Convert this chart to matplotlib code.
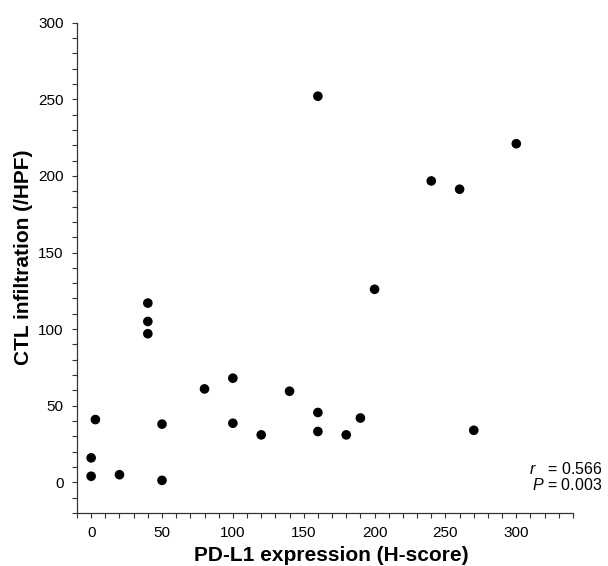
import matplotlib
matplotlib.use('Agg')
import matplotlib.pyplot as plt
from matplotlib.ticker import MultipleLocator

plt.rcParams['font.family'] = ['Liberation Sans', 'DejaVu Sans']
plt.rcParams['mathtext.fontset'] = 'custom'
plt.rcParams['mathtext.rm'] = 'Liberation Sans'
plt.rcParams['mathtext.it'] = 'Liberation Sans:italic'

# PD-L1 H-score vs CTL count per HPF
pdl1 = [0, 0, 3, 20, 40, 40, 40, 50, 50, 80, 100, 100, 120, 140,
        160, 160, 160, 180, 190, 200, 240, 260, 270, 300]
ctl = [4, 16, 41, 5, 117, 105, 97, 38, 1.3, 61, 68, 38.6, 31, 59.5,
       252, 45.6, 33.2, 31, 42, 126, 196.7, 191.3, 34, 221]
stats_text = ["$r$   = 0.566", "$P$ = 0.003"]

fig = plt.figure(figsize=(6.08, 5.66), dpi=100)
ax = fig.add_axes([0.1266, 0.0936, 0.8158, 0.8664])
ax.scatter(pdl1, ctl, s=48, color='black', edgecolors='none', zorder=3)

ax.set_xlim(-10, 340)
ax.set_ylim(-20, 300)
ax.set_xticks([0, 50, 100, 150, 200, 250, 300])
ax.set_yticks([0, 50, 100, 150, 200, 250, 300])
ax.xaxis.set_minor_locator(MultipleLocator(10))
ax.yaxis.set_minor_locator(MultipleLocator(10))
ax.tick_params(which='both', direction='out', length=3.5, width=0.8,
               color='#333333', labelsize=11, pad=6)

for s in ['top', 'right']:
    ax.spines[s].set_visible(False)
for s in ['left', 'bottom']:
    ax.spines[s].set_linewidth(0.9)
    ax.spines[s].set_color('#333333')

ax.set_xlabel('PD-L1 expression (H-score)', fontsize=15, fontweight='bold', va='center')
ax.set_ylabel('CTL infiltration (/HPF)', fontsize=15, fontweight='bold', va='center')
ax.xaxis.set_label_coords(0.512, -0.087)
ax.yaxis.set_label_coords(-0.107, 0.522)

ax.text(0.991, 1 - 469 / 566, stats_text[0], transform=fig.transFigure,
        ha='right', va='center', fontsize=11.5)
ax.text(0.991, 1 - 485 / 566, stats_text[1], transform=fig.transFigure,
        ha='right', va='center', fontsize=11.5)

fig.savefig('out.png', dpi=100)
